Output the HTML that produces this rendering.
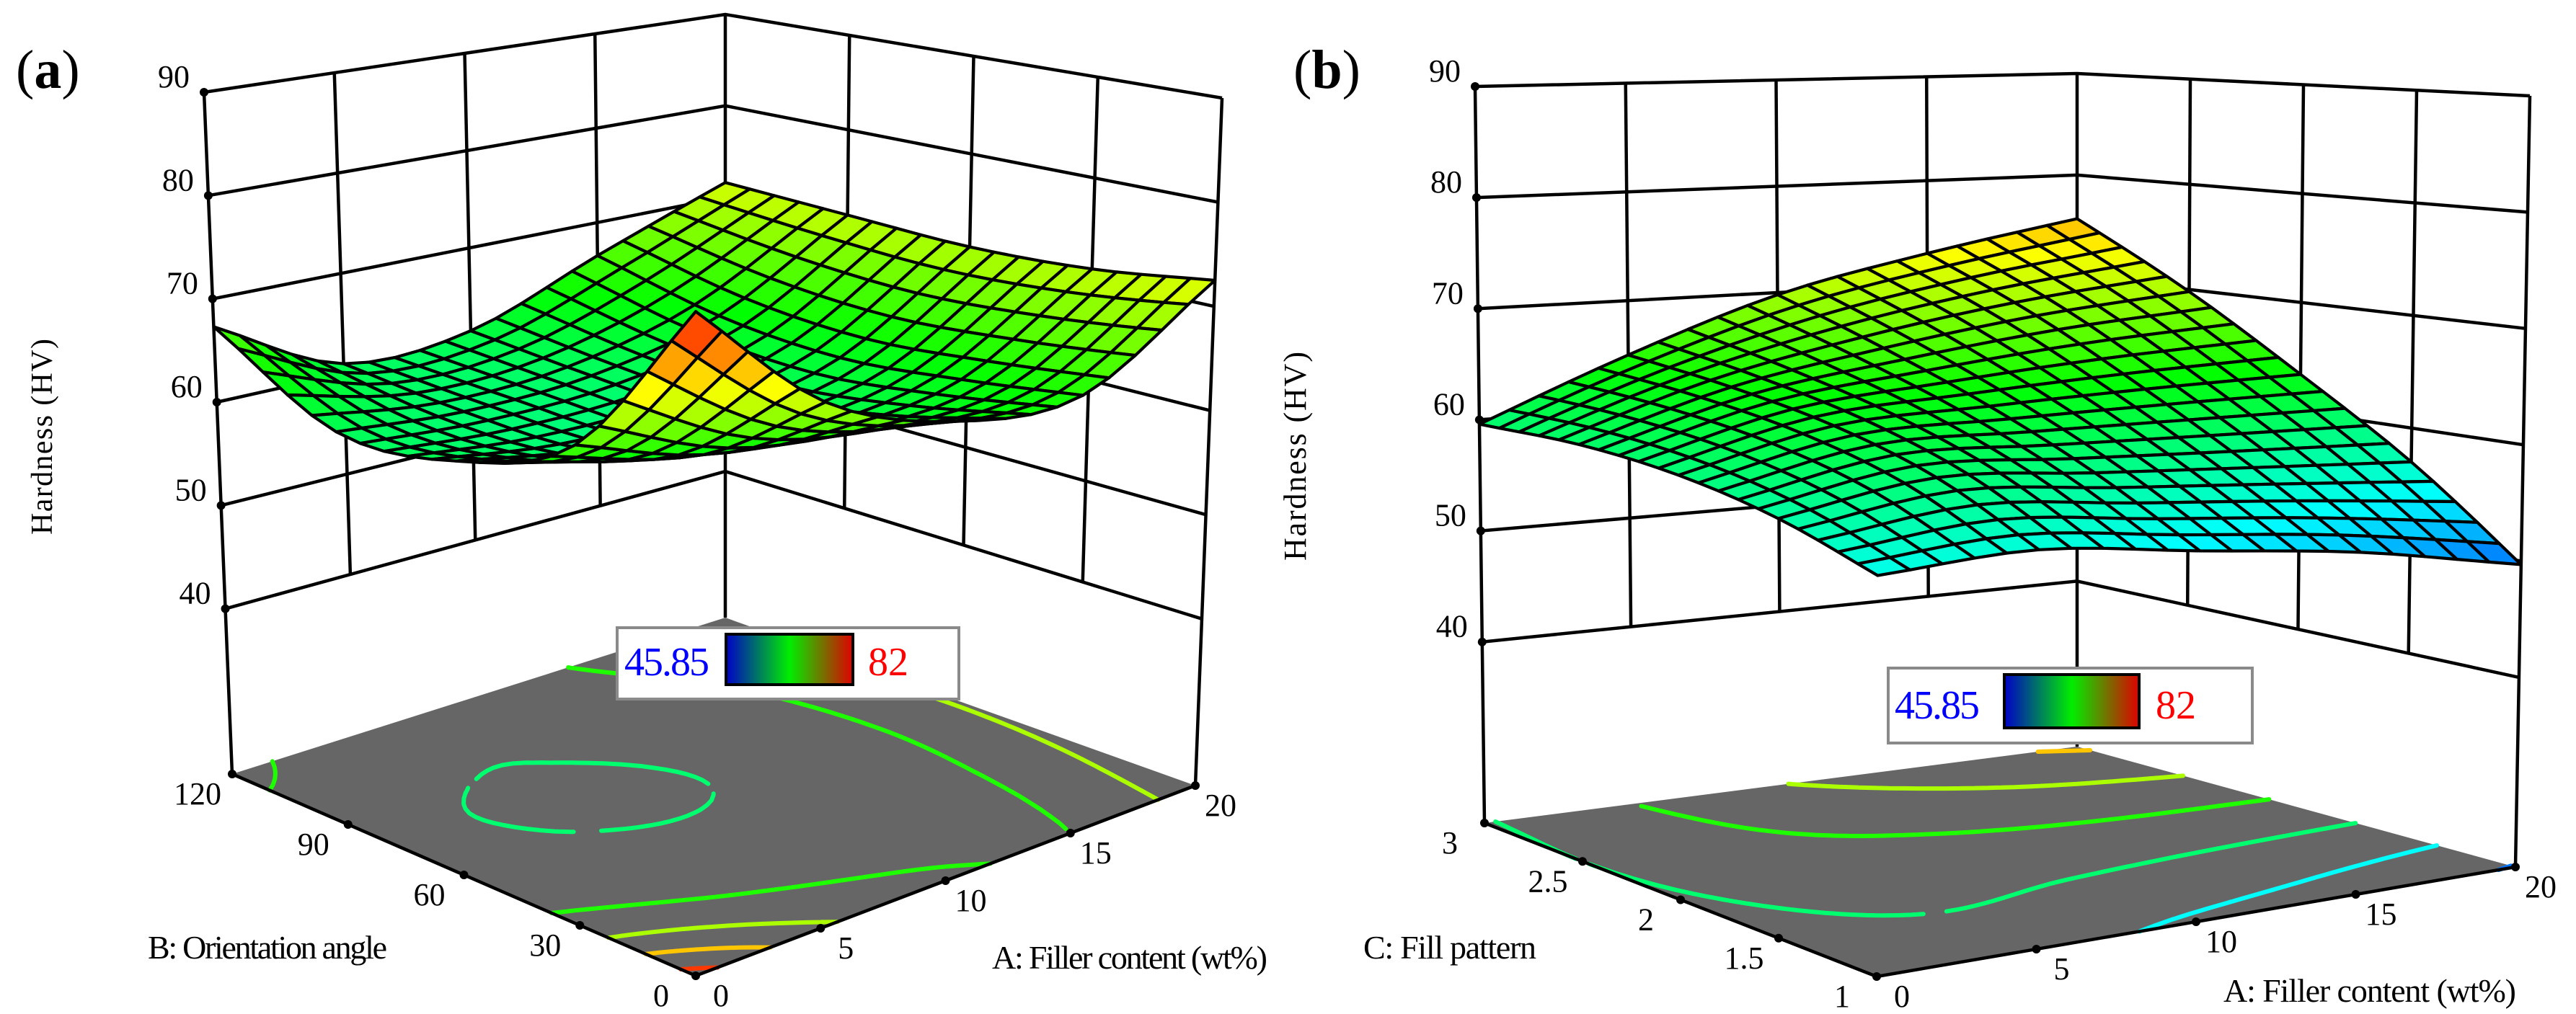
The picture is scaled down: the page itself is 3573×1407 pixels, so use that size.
<!DOCTYPE html>
<html><head><meta charset="utf-8"><title>Hardness response surfaces</title>
<style>
html,body{margin:0;padding:0;background:#fff;}
svg, svg text, svg tspan{font-family:"Liberation Serif","DejaVu Serif",serif !important;}
</style></head>
<body>
<svg id="fig" xmlns="http://www.w3.org/2000/svg" width="3573" height="1402" viewBox="0 0 3573 1402" font-family="Liberation Serif, DejaVu Serif, serif">
  <rect x="0" y="0" width="3573" height="1402" fill="#fff"/>
  <g id="panelA"></g>
  <g id="panelB"></g>
  <text x="22" y="122" font-size="76" font-family="Liberation Serif, serif">(<tspan font-weight="bold">a</tspan>)</text>
  <text x="1794" y="122" font-size="76" font-family="Liberation Serif, serif">(<tspan font-weight="bold">b</tspan>)</text>
  <text transform="translate(72,606) rotate(-90)" text-anchor="middle" font-size="42" font-family="Liberation Serif, serif" textLength="272">Hardness (HV)</text>
  <text transform="translate(1811,633) rotate(-90)" text-anchor="middle" font-size="44" font-family="Liberation Serif, serif" textLength="290">Hardness (HV)</text>
  <text x="205" y="1330" font-size="46" font-family="Liberation Serif, serif" textLength="332">B: Orientation angle</text>
  <text x="1376" y="1344" font-size="46" font-family="Liberation Serif, serif" textLength="382">A: Filler content (wt%)</text>
  <text x="1891" y="1330" font-size="46" font-family="Liberation Serif, serif" textLength="240">C: Fill pattern</text>
  <text x="3084" y="1390" font-size="46" font-family="Liberation Serif, serif" textLength="406">A: Filler content (wt%)</text>
</svg>
<script>
// ---------- DATA ----------
const zTicks = [40, 50, 60, 70, 80, 90];
const zTickLabels = ["40", "50", "60", "70", "80", "90"];
const aTicks = [0, 5, 10, 15, 20];
const aTickLabels = ["0", "5", "10", "15", "20"];
const bTicks = [0, 30, 60, 90, 120];
const bTickLabels = ["0", "30", "60", "90", "120"];
const cTicks = [1, 1.5, 2, 2.5, 3];
const cTickLabels = ["1", "1.5", "2", "2.5", "3"];
// hardness grid for panel a: rows = A (0..20 step 5), cols = B (0..120 step 30)
const hardnessA = [
  [82, 67, 62, 61, 67.3],
  [71, 63, 60, 60, 61],
  [66, 62, 60, 60.5, 61.5],
  [65, 63.5, 62.5, 63.5, 66.5],
  [72.5, 71, 70.5, 71, 71.6]
];
// hardness grid for panel b: rows = A (0..20 step 5), cols = C (1..3 step 0.5)
const hardnessB = [
  [55.5, 58, 59.5, 60, 59.6],
  [56, 60, 62.5, 64, 65],
  [54.3, 59, 63, 66.5, 69.8],
  [52.5, 58, 63.3, 68.5, 73],
  [49.7, 57, 63.4, 69.8, 75.7]
];
const colorMin = 45.85;
const colorMax = 82;
const contourLevels = [50, 55, 60, 65, 70, 75, 80];

// ---------- GEOMETRY ----------
const NS = "http://www.w3.org/2000/svg";
const FONT = "Liberation Serif, DejaVu Serif, serif";
const geomA = {zf:24, zt:90,
  F:[965,1354,965,305], L:[322,1074,283,128], R:[1658,1090,1695,136], K:[1006,857,1006,20]};
const geomB = {zf:23.7, zt:90,
  F:[2603,1355,2606,195], L:[2059,1142,2046,120], R:[3489,1203,3509,133], K:[2881,1036,2881,102]};

function proj(g,u,v,z){
  const c=k=>g.F[k]*(1-u)*(1-v)+g.R[k]*u*(1-v)+g.L[k]*(1-u)*v+g.K[k]*u*v;
  const t=(z-g.zf)/(g.zt-g.zf);
  return [c(0)+(c(2)-c(0))*t, c(1)+(c(3)-c(1))*t];
}
function cmap(val){
  const stops=[[0,[0,0,255]],[0.25,[0,255,255]],[0.5,[0,255,0]],[0.75,[255,255,0]],[1,[255,0,0]]];
  let t=(val-colorMin)/(colorMax-colorMin); t=Math.max(0,Math.min(1,t));
  for(let i=1;i<stops.length;i++){
    if(t<=stops[i][0]){
      const a=stops[i-1],b=stops[i],f=(t-a[0])/(b[0]-a[0]);
      const c=a[1].map((x,k)=>Math.round(x+(b[1][k]-x)*f));
      return `rgb(${c[0]},${c[1]},${c[2]})`;
    }
  }
  return "rgb(255,0,0)";
}
function cr(p0,p1,p2,p3,t){
  return 0.5*((2*p1)+(-p0+p2)*t+(2*p0-5*p1+4*p2-p3)*t*t+(-p0+3*p1-3*p2+p3)*t*t*t);
}
function gv(grid,i,j){
  const n=grid.length;
  const ci=Math.max(0,Math.min(n-1,i)), cj=Math.max(0,Math.min(n-1,j));
  let v=grid[ci][cj];
  if(i<0) v=2*grid[0][cj]-grid[1][cj];
  if(i>n-1) v=2*grid[n-1][cj]-grid[n-2][cj];
  if(j<0) v=2*grid[ci][0]-grid[ci][1];
  if(j>n-1) v=2*grid[ci][n-1]-grid[ci][n-2];
  return v;
}
function interp(grid,u,v){
  const n=grid.length-1;
  const s=u*n, r=v*n;
  const i=Math.min(n-1,Math.floor(s)), j=Math.min(n-1,Math.floor(r));
  const ti=s-i, tj=r-j;
  const rows=[];
  for(let di=-1;di<=2;di++){
    rows.push(cr(gv(grid,i+di,j-1),gv(grid,i+di,j),gv(grid,i+di,j+1),gv(grid,i+di,j+2),tj));
  }
  return cr(rows[0],rows[1],rows[2],rows[3],ti);
}
function mk(tag,attrs,parent){
  const e=document.createElementNS(NS,tag);
  for(const k in attrs) e.setAttribute(k,attrs[k]);
  parent.appendChild(e);
  return e;
}
const pts=a=>a.map(p=>p[0].toFixed(1)+","+p[1].toFixed(1)).join(" ");

function drawPanel(gid,g,grid,xTicks,xLabels,yTicks,yLabels,legend){
  const root=document.getElementById(gid);
  const xMin=xTicks[0], xMax=xTicks[xTicks.length-1];
  const yMin=yTicks[0], yMax=yTicks[yTicks.length-1];
  const xs=x=>(x-xMin)/(xMax-xMin);
  const ys=y=>(y-yMin)/(yMax-yMin);
  const walls=mk("g",{},root);
  
  
  zTicks.forEach(z=>{
    const a=proj(g,0,1,z), b=proj(g,1,1,z), c=proj(g,1,0,z);
    const l=mk("polyline",{points:pts([a,b,c]),fill:"none",stroke:"#000","stroke-width":4.5},walls);
    
    
  });
  xTicks.forEach(x=>{
    const u=xs(x);
    const zb=(u===0||u===1)?g.zf:zTicks[0];
    const a=proj(g,u,1,zb), b=proj(g,u,1,zTicks[zTicks.length-1]);
    const l=mk("line",{x1:a[0],y1:a[1],x2:b[0],y2:b[1],stroke:"#000","stroke-width":4.5},walls);
    
    
  });
  yTicks.forEach(y=>{
    const v=ys(y);
    if(v===1) return;
    const zb=(v===0)?g.zf:zTicks[0];
    const a=proj(g,1,v,zb), b=proj(g,1,v,zTicks[zTicks.length-1]);
    const l=mk("line",{x1:a[0],y1:a[1],x2:b[0],y2:b[1],stroke:"#000","stroke-width":4.5},walls);
    
    
  });
  const floor=mk("polygon",{points:pts([proj(g,0,0,g.zf),proj(g,1,0,g.zf),proj(g,1,1,g.zf),proj(g,0,1,g.zf)]),fill:"#666666"},root);
  
  
  const cg=mk("g",{fill:"none","stroke-width":6,"stroke-linecap":"round"},root);
  
  
  const N=60, F=[];
  for(let i=0;i<=N;i++){F.push([]);for(let j=0;j<=N;j++)F[i].push(interp(grid,i/N,j/N));}
  contourLevels.forEach(lv=>{
    let d="";
    for(let i=0;i<N;i++)for(let j=0;j<N;j++){
      const c=[[i,j],[i+1,j],[i+1,j+1],[i,j+1]];
      const vals=c.map(p=>F[p[0]][p[1]]);
      const cross=[];
      for(let k=0;k<4;k++){
        const a=vals[k],b=vals[(k+1)%4];
        if((a-lv)*(b-lv)<0){
          const t=(lv-a)/(b-a);
          const p=c[k],q=c[(k+1)%4];
          cross.push([(p[0]+(q[0]-p[0])*t)/N,(p[1]+(q[1]-p[1])*t)/N]);
        }
      }
      for(let k=0;k+1<cross.length;k+=2){
        const A=proj(g,cross[k][0],cross[k][1],g.zf),B=proj(g,cross[k+1][0],cross[k+1][1],g.zf);
        d+=`M${A[0].toFixed(1)},${A[1].toFixed(1)}L${B[0].toFixed(1)},${B[1].toFixed(1)}`;
      }
    }
    if(d){
      const p=mk("path",{d:d,stroke:cmap(lv)},cg);
      
      
    }
  });
  const e1=mk("polyline",{points:pts([proj(g,0,1,g.zf),proj(g,0,0,g.zf),proj(g,1,0,g.zf)]),fill:"none",stroke:"#000","stroke-width":4.5},root);
  
  
  const sg=mk("g",{stroke:"#000","stroke-width":4.2,"stroke-linejoin":"round"},root);
  
  
  const M=20, cells=[];
  for(let i=0;i<M;i++)for(let j=0;j<M;j++)cells.push([i,j]);
  cells.sort((p,q)=>(q[0]+q[1])-(p[0]+p[1]));
  cells.forEach(([i,j])=>{
    const corners=[[i,j],[i+1,j],[i+1,j+1],[i,j+1]].map(([a,b])=>[a/M,b/M,interp(grid,a/M,b/M)]);
    const avg=corners.reduce((s,c)=>s+c[2],0)/4;
    const poly=mk("polygon",{points:pts(corners.map(c=>proj(g,c[0],c[1],c[2]))),fill:cmap(avg)},sg);
    
    
  });
  zTicks.forEach((z,k)=>{
    const p=proj(g,0,1,z);
    const dot=mk("circle",{cx:p[0],cy:p[1],r:6,fill:"#000"},root);
    
    
    const t=mk("text",{x:p[0]-20,y:p[1]-7,"text-anchor":"end","font-size":44,"font-family":FONT},root);
    t.textContent=zTickLabels[k];
    
    
  });
  xTicks.forEach((x,k)=>{
    const p=proj(g,xs(x),0,g.zf);
    if(k>0){
      const dot=mk("circle",{cx:p[0],cy:p[1],r:6,fill:"#000"},root);
      
      
    }
    const t=mk("text",{x:p[0]+35,y:p[1]+42,"text-anchor":"middle","font-size":44,"font-family":FONT},root);
    t.textContent=xLabels[k];
    
    
  });
  yTicks.forEach((y,k)=>{
    const p=proj(g,0,ys(y),g.zf);
    const dot=mk("circle",{cx:p[0],cy:p[1],r:6,fill:"#000"},root);
    
    
    const t=mk("text",{x:p[0]-48,y:p[1]+42,"text-anchor":"middle","font-size":44,"font-family":FONT},root);
    t.textContent=yLabels[k];
    
    
  });
  const lg=mk("g",{},root);
  
  
  mk("rect",{x:legend.bx,y:legend.by,width:legend.bw,height:legend.bh,fill:"#fff",stroke:"#8a8a8a","stroke-width":4},lg);
  const bar=mk("rect",{x:legend.cx,y:legend.cy,width:legend.cw,height:legend.ch,fill:"url(#cbar)",stroke:"#000","stroke-width":4},lg);
  
  
  const t1=mk("text",{x:legend.tx1,y:legend.ty,"font-size":56,fill:"#0000ff",textLength:118,"font-family":FONT},lg);
  t1.textContent=String(colorMin);
  
  
  const t2=mk("text",{x:legend.tx2,y:legend.ty,"font-size":56,fill:"#ff0000","font-family":FONT},lg);
  t2.textContent=String(colorMax);
  
  
}
const svg=document.getElementById("fig");
const defs=mk("defs",{},svg);
const lgr=mk("linearGradient",{id:"cbar",x1:"0",x2:"1",y1:"0",y2:"0"},defs);
mk("stop",{offset:"0","stop-color":"#0000c8"},lgr);
mk("stop",{offset:"0.5","stop-color":"#00ee00"},lgr);
mk("stop",{offset:"1","stop-color":"#e00000"},lgr);

drawPanel("panelA",geomA,hardnessA,aTicks,aTickLabels,bTicks,bTickLabels,
  {bx:856,by:871,bw:474,bh:99,cx:1007,cy:880,cw:176,ch:70,tx1:866,tx2:1204,ty:937});
drawPanel("panelB",geomB,hardnessB,aTicks,aTickLabels,cTicks,cTickLabels,
  {bx:2619,by:927,bw:505,bh:104,cx:2780,cy:936,cw:187,ch:74,tx1:2628,tx2:2990,ty:997});
</script>
</body></html>
